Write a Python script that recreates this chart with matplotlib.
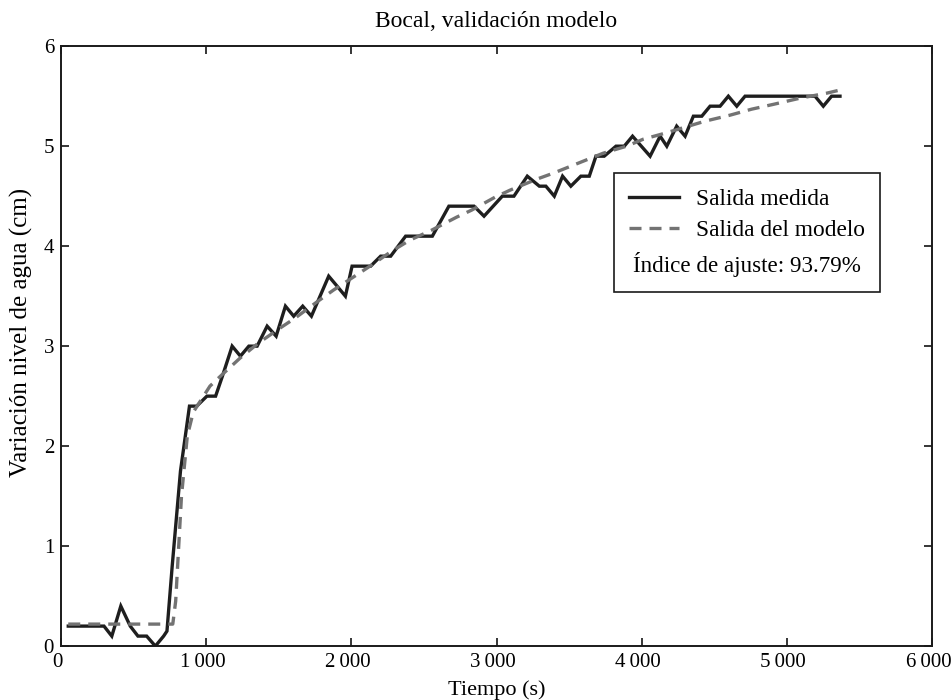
import matplotlib
matplotlib.use("Agg")
import matplotlib.pyplot as plt
import matplotlib.transforms as mtransforms
from matplotlib.lines import Line2D

# ---- data ----
t_meas = [50, 296, 350, 412, 477, 530, 590, 650, 707, 730, 766, 823, 885, 935,
          1005, 1065, 1112, 1179, 1236, 1294, 1351, 1420, 1482, 1546, 1603, 1665,
          1725, 1844, 1902, 1959, 2005, 2062, 2133, 2202, 2271, 2374, 2558, 2672,
          2845, 2914, 3040, 3120, 3212, 3295, 3340, 3398, 3455, 3512, 3581, 3639,
          3685, 3742, 3823, 3880, 3937, 4058, 4127, 4173, 4241, 4299, 4356, 4414,
          4471, 4540, 4597, 4655, 4712, 5194, 5251, 5308, 5366]
y_meas = [0.2, 0.2, 0.1, 0.4, 0.2, 0.1, 0.1, 0.0, 0.1, 0.15, 0.8, 1.75, 2.4, 2.4,
          2.5, 2.5, 2.7, 3.0, 2.9, 3.0, 3.0, 3.2, 3.1, 3.4, 3.3, 3.4,
          3.3, 3.7, 3.6, 3.5, 3.8, 3.8, 3.8, 3.9, 3.9, 4.1, 4.1, 4.4,
          4.4, 4.3, 4.5, 4.5, 4.7, 4.6, 4.6, 4.5, 4.7, 4.6, 4.7, 4.7,
          4.9, 4.9, 5.0, 5.0, 5.1, 4.9, 5.1, 5.0, 5.2, 5.1, 5.3, 5.3,
          5.4, 5.4, 5.5, 5.4, 5.5, 5.5, 5.4, 5.5, 5.5]

t_mod = [50, 770, 790, 830, 870, 911, 1026, 1106, 1233, 1359, 1508, 1612, 1761,
         1876, 2013, 2128, 2278, 2403, 2553, 2725, 2828, 2990, 3093, 3277, 3391,
         3563, 3735, 3896, 4011, 4161, 4436, 4608, 4757, 4912, 5090, 5274, 5390]
y_mod = [0.22, 0.22, 0.45, 1.5, 2.1, 2.34, 2.6, 2.71, 2.88, 3.03, 3.18, 3.28, 3.44,
         3.56, 3.69, 3.8, 3.95, 4.06, 4.16, 4.29, 4.36, 4.49, 4.56, 4.67, 4.73,
         4.83, 4.93, 5.0, 5.07, 5.13, 5.25, 5.31, 5.37, 5.42, 5.48, 5.53, 5.57]

x_ticks = [0, 1000, 2000, 3000, 4000, 5000, 6000]
x_tick_labels = ["0", "1\u2009000", "2\u2009000", "3\u2009000", "4\u2009000",
                 "5\u2009000", "6\u2009000"]
y_ticks = [0, 1, 2, 3, 4, 5, 6]

title = "Bocal, validación modelo"
xlabel = "Tiempo (s)"
ylabel = "Variación nivel de agua (cm)"
legend_labels = ["Salida medida", "Salida del modelo"]
fit_text = "Índice de ajuste: 93.79%"

# ---- plot ----
plt.rcParams['font.family'] = ['Liberation Serif', 'DejaVu Serif']

fig = plt.figure(figsize=(9.53, 7.0), dpi=100)
ax = fig.add_axes([0.064, 0.077, 0.914, 0.857])

meas_color = '#1e1e1e'
mod_color = '#737373'
ax.plot(t_meas, y_meas, color=meas_color, lw=2.4, zorder=2,
        solid_joinstyle='miter')
ax.plot(t_mod, y_mod, color=mod_color, lw=2.4, ls=(0, (3.6, 2.4)), zorder=3)

ax.set_xlim(0, 6000)
ax.set_ylim(0, 6)
ax.set_xticks(x_ticks)
ax.set_xticklabels(x_tick_labels)
ax.set_yticks(y_ticks)
ax.tick_params(direction='in', top=True, right=True, length=6, width=1.1,
               labelsize=15, pad=5)
ax.tick_params(axis='y', pad=5)
shift = mtransforms.ScaledTranslation(-0.035, 0, fig.dpi_scale_trans)
for lab in ax.get_xticklabels():
    lab.set_transform(lab.get_transform() + shift)
for s in ax.spines.values():
    s.set_linewidth(1.4)
    s.set_color('#1a1a1a')

ax.set_title(title, fontsize=17, pad=14)
ax.set_xlabel(xlabel, fontsize=16, labelpad=6)
ax.set_ylabel(ylabel, fontsize=18)
ax.yaxis.set_label_coords(-0.032, 0.523)

handles = [Line2D([], [], color=meas_color, lw=2.4),
           Line2D([], [], color=mod_color, lw=2.4, ls=(0, (3.6, 2.4)))]
leg = ax.legend(handles, legend_labels, loc='upper left',
                bbox_to_anchor=(0.635, 0.788), borderaxespad=0,
                fontsize=16.8, title=fit_text, title_fontsize=16.6,
                fancybox=False, framealpha=1, edgecolor='#1a1a1a',
                handlelength=2.15, handletextpad=0.7, labelspacing=0.42,
                borderpad=0.65)
leg.get_frame().set_linewidth(1.2)
# place the fit-index line below the entries
box = leg._legend_box
box._children = box._children[::-1]
box.sep = 8

fig.savefig("out.png", dpi=100)
